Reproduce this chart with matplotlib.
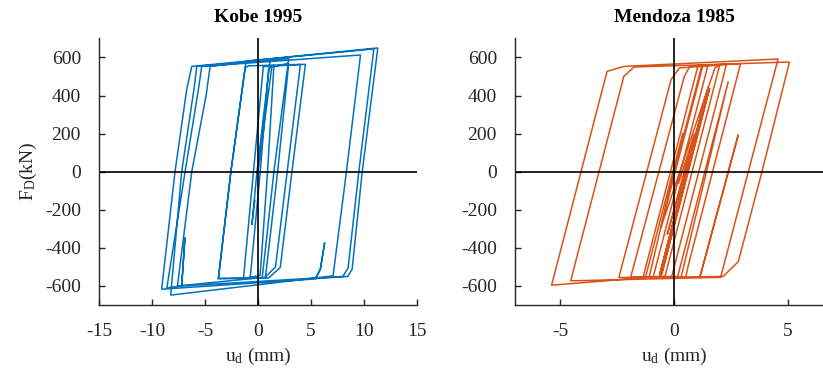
import matplotlib
matplotlib.use("Agg")
import matplotlib.pyplot as plt

# ---------------- data (displacement mm, force kN) ----------------
kobe_u = [0.00, 1.30, 2.90, 1.85, 0.70, -0.74, 0.21, 1.00, 1.50, 0.90, 0.20, -1.37, -0.43, 0.50,
          4.00, 2.75, 1.65, 0.60, -3.74, -2.56, -1.21, -0.90, 4.47, 3.20, 2.10, 1.00, -3.74, -2.56,
          -1.21, -1.10, 11.30, 9.83, 8.88, 8.47, 5.41, 5.88, 6.29, 5.88, 5.41, -9.09, -7.83, -6.73,
          -6.25, 10.93, 9.51, 8.50, 8.00, -7.20, -6.89, -7.20, -8.60, -6.88, -5.60, -5.31, 9.67,
          8.34, 7.08, -8.24, -7.20, -6.00, -5.78, 2.90, 1.50, 0.40, -7.60, -6.25, -4.90, -4.52,
          1.15, -0.10, -0.58, -0.30]
kobe_f = [0, 550, 570, 0, -555, -560, 0, 540, 560, 0, -545, -560, 0, 552,
          563, 0, -500, -558, -560, 0, 545, 556, 564, 0, -503, -558, -562, 0,
          550, 581, 650, 0, -512, -550, -561, -512, -372, -512, -563, -617, 0, 431,
          553, 645, 0, -505, -550, -600, -346, -600, -610, 0, 440, 553, 613,
          0, -547, -648, 0, 450, 553, 595, 0, -556, -600, 0, 400, 553,
          589, 0, -280, -150]

mend_u = [0.00, 1.22, 1.50, -0.91, -1.36, 1.05, 1.27, -0.60, 1.80, 2.01,
          -0.40, -1.91, 0.45, 0.70, 2.31, -0.10, -2.43, -0.13, 0.24, 2.93,
          0.61, 0.52, -1.10, 0.39, -1.26, -5.39, -2.95, -2.21, 4.58, 3.27,
          2.05, 1.13, 2.83, 1.13, -4.55, -2.21, -1.76, 5.08, 3.87, 2.83,
          2.16, 0.31, 2.39, 0.16, -0.60, 1.51, -0.61, 1.45, -0.64, 1.53,
          -0.55, 1.40, -0.50, 1.57, -0.58, 1.35, -0.45, 1.20, -0.30, 0.90, 0.20]
mend_f = [0, 555, 562, -550, -553, 555, 558, -300, 545, 560,
          -550, -555, 500, 555, 565, -550, -556, 484, 545, 568,
          -500, -552, -556, 204, -556, -596, 527, 553, 592, 0,
          -555, -557, 195, -557, -573, 501, 550, 576, 0, -472,
          -550, -553, 475, -550, -555, 445, -530, 420, -548, 438,
          -540, 400, -520, 440, -548, 380, -470, 300, -330, 200, -60]

titles = ["Kobe 1995", "Mendoza 1985"]
xticks_kobe = [-15, -10, -5, 0, 5, 10, 15]
xticks_mend = [-5, 0, 5]
yticks = [-600, -400, -200, 0, 200, 400, 600]

# ---------------- style ----------------
plt.rcParams['font.family'] = ['Liberation Serif', 'DejaVu Serif']
plt.rcParams['mathtext.fontset'] = 'custom'
plt.rcParams['mathtext.rm'] = 'Liberation Serif'
plt.rcParams['mathtext.it'] = 'Liberation Serif'
plt.rcParams['axes.unicode_minus'] = False

BLUE = '#0072BD'
ORANGE = '#D95319'
AXC = '#262626'

fig = plt.figure(figsize=(8.23, 3.76), dpi=100)
ax1 = fig.add_axes([0.1203, 0.1888, 0.3864, 0.709])
ax2 = fig.add_axes([0.6258, 0.1888, 0.3864, 0.709])

for ax, u, f, c, title, xt, xl in [
        (ax1, kobe_u, kobe_f, BLUE, titles[0], xticks_kobe, (-15, 15)),
        (ax2, mend_u, mend_f, ORANGE, titles[1], xticks_mend, (-7, 7))]:
    ax.plot(u, f, color=c, lw=1.1, solid_joinstyle='miter')
    ax.axhline(0, color='black', lw=1.2)
    ax.axvline(0, color='black', lw=1.2)
    ax.set_xlim(*xl)
    ax.set_ylim(-700, 700)
    ax.set_xticks(xt)
    ax.set_yticks(yticks)
    ax.set_xticklabels([str(v) for v in xt])
    ax.set_yticklabels([str(v) for v in yticks])
    for s in ['top', 'right']:
        ax.spines[s].set_visible(False)
    for s in ['left', 'bottom']:
        ax.spines[s].set_color(AXC)
        ax.spines[s].set_linewidth(1.0)
    ax.tick_params(direction='in', length=4, width=1.0, color=AXC, labelsize=14,
                   labelcolor=AXC)
    ax.tick_params(axis='y', pad=13)
    ax.tick_params(axis='x', pad=13)
    ax.set_title(title, fontsize=14, fontweight='bold', pad=12)
    ax.set_xlabel(r'u$_{\mathregular{d}}$ (mm)', fontsize=14, color=AXC, labelpad=4)

ax1.set_ylabel(r'F$_{\mathregular{D}}$(kN)', fontsize=14, color=AXC, labelpad=4)

fig.savefig('out.png', dpi=100)
